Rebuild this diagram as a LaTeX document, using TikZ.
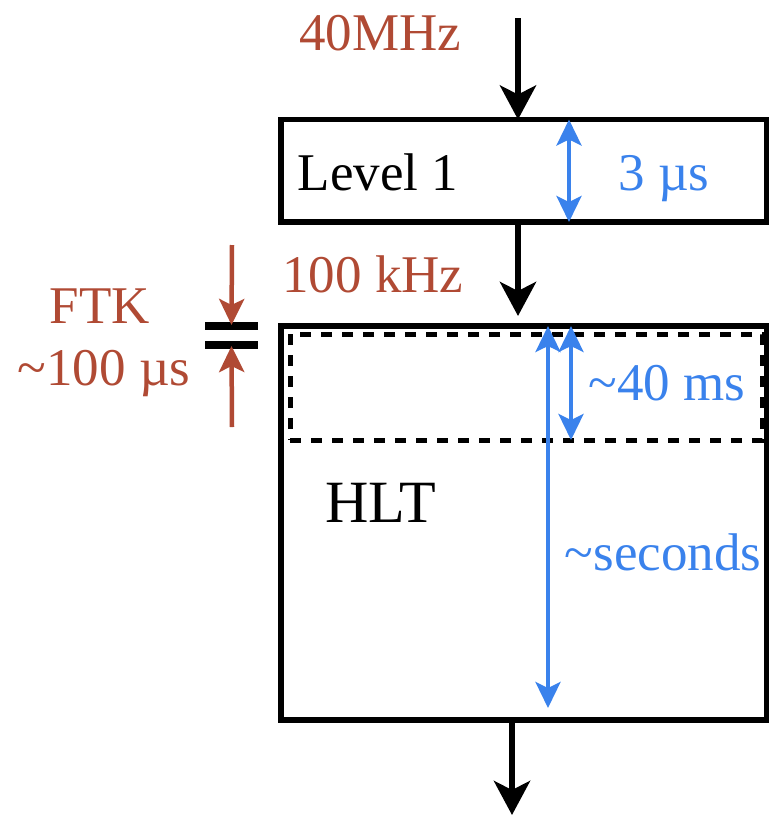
\documentclass[tikz,border=0pt]{standalone}
\usepackage{fontspec}
\setmainfont{Liberation Serif}
\usetikzlibrary{arrows.meta,positioning,calc}

\begin{document}
\begin{tikzpicture}[
    x=1pt, y=-1pt,
    font=\fontsize{53}{60}\selectfont,
    >=Stealth,
]

\definecolor{rateCol}{RGB}{176, 74, 52}
\definecolor{timeCol}{RGB}{58, 130, 236}

\tikzset{
    stage_node/.style = {rectangle, draw=black, line width=5.5pt, inner sep=0pt, outer sep=0pt},
    buffer_node/.style = {rectangle, draw=black, line width=5pt, dash pattern=on 11pt off 10pt,
                          inner sep=0pt, outer sep=0pt},
    bar_node/.style = {rectangle, fill=black, minimum width=53pt, minimum height=8pt,
                       inner sep=0pt, outer sep=0pt},
    flow/.style = {line width=6pt, -{Stealth[length=34pt, width=36pt, inset=9pt]}},
    latency/.style = {timeCol, line width=4pt,
                      {Stealth[length=26pt, width=25pt, inset=6pt]}-{Stealth[length=26pt, width=25pt, inset=6pt]}},
    ftk_arrow/.style = {rateCol, line width=4.5pt, -{Stealth[length=26pt, width=25pt, inset=6pt]}},
    rate_label/.style = {text=rateCol, inner sep=0pt, anchor=base},
    time_label/.style = {text=timeCol, inner sep=0pt, anchor=base},
    box_label/.style = {inner sep=0pt, anchor=base}
}

\useasboundingbox (0,0) rectangle (769,815);

% stages
\node[stage_node, minimum width=486pt, minimum height=102.5pt] (level1) at (524, 170.75) {};
\node[stage_node, minimum width=486pt, minimum height=394pt] (hlt) at (524, 523) {};
\node[buffer_node, minimum width=472pt, minimum height=106pt] (ftk_part) at (526, 387) {};

\node[box_label] (level1_txt) at (378, 190) {Level 1};
\node[box_label, font=\fontsize{60}{66}\selectfont] (hlt_txt) at (381, 522) {HLT};

% data flow
\coordinate (rate_in) at (518, 18);
\coordinate (hlt_in) at (518, 316);
\coordinate (rate_out) at (512, 815);

\draw[flow] (rate_in) -- (rate_in |- level1.north);
\draw[flow] (hlt_in |- level1.south) -- (hlt_in);
\draw[flow] (rate_out |- hlt.south) -- (rate_out);

\node[rate_label] (rate_40) at (380, 50) {40MHz};
\node[rate_label] (rate_100) at (373, 292) {100 kHz};

% latencies
\coordinate (l1_lat) at (569, 0);
\coordinate (hlt_lat) at (548, 708);
\coordinate (ftk_lat) at (571, 0);

\draw[latency] (l1_lat |- level1.north) -- (l1_lat |- level1.south);
\draw[latency] (hlt_lat |- hlt.north) -- (hlt_lat);
\draw[latency] (ftk_lat |- hlt.north) -- (ftk_lat |- ftk_part.south);

\node[time_label] (t_l1) at (664, 190) {3 µs};
\node[time_label] (t_ftk) at (667, 400) {\textasciitilde 40 ms};
\node[time_label] (t_hlt) at (663, 570) {\textasciitilde seconds};

% FTK
\node[bar_node] (bar_top) at (231.5, 326) {};
\node[bar_node] (bar_bot) at (231.5, 345) {};
\coordinate (ftk_top) at (232, 245);
\coordinate (ftk_bot) at (232, 427);

\draw[ftk_arrow] (ftk_top) -- ($(bar_top.north)+(0,3)$);
\draw[ftk_arrow] (ftk_bot) -- ($(bar_bot.south)+(0,-3)$);

\node[rate_label] (ftk_name) at (100, 323) {FTK};
\node[rate_label] (ftk_time) at (104, 385) {\textasciitilde 100 µs};

\end{tikzpicture}
\end{document}
